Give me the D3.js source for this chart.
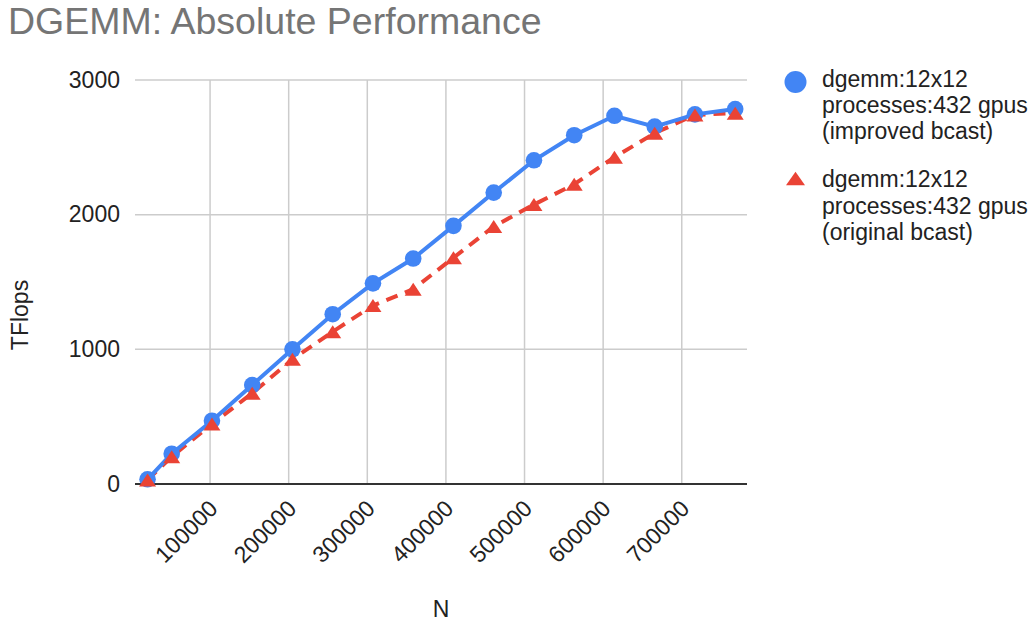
<!DOCTYPE html>
<html lang="en">
<head>
    <meta charset="UTF-8">
    <title>DGEMM: Absolute Performance</title>
    <style>
        body { margin: 0; background: #fff; }
        text { font-family: "Liberation Sans", Arial, sans-serif; }
    </style>
</head>
<body>
    <div id="chart"></div>
    <script src="https://d3js.org/d3.v7.min.js"></script>
    <script>
        // Data
        const N = [20480, 51200, 102400, 153600, 204800, 256000, 307200, 358400,
                   409600, 460800, 512000, 563200, 614400, 665600, 716800, 768000];
        const IMPROVED = [35, 225, 470, 735, 1000, 1261, 1490, 1674, 1917, 2164, 2404, 2590, 2734, 2654, 2745, 2784];
        const ORIGINAL = [30, 203, 446, 674, 926, 1131, 1325, 1447, 1680, 1912, 2075, 2226, 2427, 2605, 2741, 2754];
        const X_TICKS = [100000, 200000, 300000, 400000, 500000, 600000, 700000];
        const Y_TICKS = [0, 1000, 2000, 3000];
        const LEGEND = [
            ["dgemm:12x12", "processes:432 gpus", "(improved bcast)"],
            ["dgemm:12x12", "processes:432 gpus", "(original bcast)"]
        ];

        const W = 1032, H = 621;
        const LEFT = 135, RIGHT = 747, TOP = 80, BOTTOM = 484;
        const BLUE = "#4285f4", RED = "#ea4335";
        const FS = 23;

        const x = d3.scaleLinear().domain([4500, 783000]).range([LEFT, RIGHT]);
        const y = d3.scaleLinear().domain([0, 3000]).range([BOTTOM, TOP]);

        const svg = d3.select("#chart").append("svg")
            .attr("width", W).attr("height", H);

        // title
        svg.append("text")
            .attr("x", 8).attr("y", 34)
            .attr("font-size", 37.5).attr("fill", "#757575")
            .text("DGEMM: Absolute Performance");

        // grid lines
        svg.append("g").selectAll("line").data(Y_TICKS.filter(d => d > 0)).enter()
            .append("line")
            .attr("x1", LEFT).attr("x2", RIGHT)
            .attr("y1", d => y(d)).attr("y2", d => y(d))
            .attr("stroke", "#cccccc").attr("stroke-width", 1.5);

        svg.append("g").selectAll("line").data(X_TICKS).enter()
            .append("line")
            .attr("x1", d => x(d)).attr("x2", d => x(d))
            .attr("y1", TOP).attr("y2", BOTTOM)
            .attr("stroke", "#cccccc").attr("stroke-width", 1.5);

        // y tick labels
        svg.append("g").selectAll("text").data(Y_TICKS).enter()
            .append("text")
            .attr("x", 120).attr("y", d => y(d) + 7.8)
            .attr("text-anchor", "end")
            .attr("font-size", FS).attr("fill", "#222")
            .text(d => d);

        // x tick labels, rotated
        svg.append("g").selectAll("text").data(X_TICKS).enter()
            .append("text")
            .attr("transform", d => `translate(${x(d) + 9},${510}) rotate(-45)`)
            .attr("text-anchor", "end")
            .attr("font-size", FS).attr("fill", "#222")
            .text(d => d);

        // baseline
        svg.append("line")
            .attr("x1", LEFT).attr("x2", RIGHT)
            .attr("y1", y(0)).attr("y2", y(0))
            .attr("stroke", "#333").attr("stroke-width", 2);

        // axis titles
        svg.append("text")
            .attr("x", (LEFT + RIGHT) / 2).attr("y", 617)
            .attr("text-anchor", "middle")
            .attr("font-size", FS).attr("fill", "#222")
            .text("N");

        svg.append("text")
            .attr("transform", "translate(28,315) rotate(-90)")
            .attr("text-anchor", "middle")
            .attr("font-size", FS).attr("fill", "#222")
            .text("TFlops");

        const improved = N.map((n, i) => ({ n, v: IMPROVED[i] }));
        const original = N.map((n, i) => ({ n, v: ORIGINAL[i] }));

        const line = d3.line().x(d => x(d.n)).y(d => y(d.v));

        const tri = (cx, cy, w, h) =>
            `M${cx},${cy - h / 2}L${cx + w / 2},${cy + h / 2}L${cx - w / 2},${cy + h / 2}Z`;

        // original (red, dashed, triangles)
        svg.append("path")
            .datum(original)
            .attr("d", line)
            .attr("fill", "none")
            .attr("stroke", RED).attr("stroke-width", 4)
            .attr("stroke-dasharray", "12,8");

        // improved (blue, solid, circles)
        svg.append("path")
            .datum(improved)
            .attr("d", line)
            .attr("fill", "none")
            .attr("stroke", BLUE).attr("stroke-width", 4);

        svg.append("g").selectAll("circle").data(improved).enter()
            .append("circle")
            .attr("cx", d => x(d.n)).attr("cy", d => y(d.v))
            .attr("r", 8.3).attr("fill", BLUE);

        svg.append("g").selectAll("path").data(original).enter()
            .append("path")
            .attr("d", d => tri(x(d.n), y(d.v), 17, 13))
            .attr("fill", RED);

        // legend
        const leg = svg.append("g");
        leg.append("circle").attr("cx", 795.5).attr("cy", 82).attr("r", 11).attr("fill", BLUE);
        leg.append("path").attr("d", tri(795.5, 178.5, 19, 13.5)).attr("fill", RED);

        const LEG_BASE = [86.7, 187.3];
        LEGEND.forEach((lines, k) => {
            lines.forEach((t, j) => {
                leg.append("text")
                    .attr("x", 822).attr("y", LEG_BASE[k] + j * 26.3)
                    .attr("font-size", FS).attr("fill", "#222")
                    .text(t);
            });
        });
    </script>
</body>
</html>
